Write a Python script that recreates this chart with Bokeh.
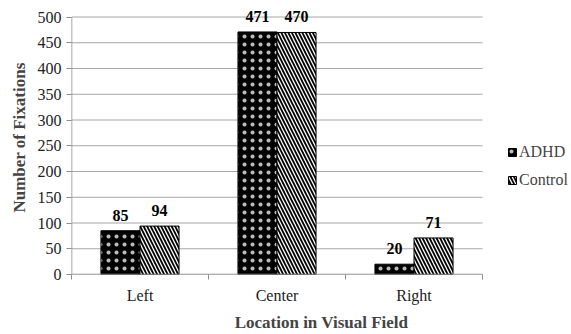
from bokeh.plotting import figure
from bokeh.models import (ColumnDataSource, FixedTicker, Legend, LegendItem,
                          LabelSet, Range1d)
from bokeh.embed import file_html
from bokeh.resources import INLINE
import numpy as np

categories = ["Left", "Center", "Right"]
adhd = [85, 471, 20]
control = [94, 470, 71]
y_ticks = [0, 50, 100, 150, 200, 250, 300, 350, 400, 450, 500]

FONT = "Liberation Serif"
n = len(categories)
pos = np.arange(n) + 0.5
bw = 0.285
GRID = "#a6a6a6"
AXIS = "#8c8c8c"
y_top = y_ticks[-1]

src = ColumnDataSource(dict(
    xa=pos - bw / 2, xc=pos + bw / 2, adhd=adhd, control=control,
    la=[str(v) for v in adhd], lc=[str(v) for v in control]))

# frame spans 71..571 px horizontally; the categories occupy 71..482 px
# frame spans 0..282 px vertically; value 500 sits at 17 px
x_end = n * 500 / 411
y_end = y_top * 282 / 265
p = figure(width=571, height=334, output_backend="svg", toolbar_location=None,
           x_range=Range1d(0, x_end), y_range=Range1d(0, y_end),
           min_border_left=71, min_border_right=0, min_border_top=0,
           min_border_bottom=52)
p.outline_line_color = None
p.background_fill_color = "white"
p.border_fill_color = "white"

# horizontal gridlines (only across the category area)
p.segment(x0=[0] * len(y_ticks), x1=[n] * len(y_ticks), y0=y_ticks, y1=y_ticks,
          line_color=GRID, line_width=1)

ra = p.vbar(x="xa", top="adhd", width=bw, source=src, fill_color="black",
            line_color="black", line_width=1, hatch_pattern="dot",
            hatch_color="#bdbdbd", hatch_scale=8, hatch_weight=0.5)
rc = p.vbar(x="xc", top="control", width=bw, source=src, fill_color="white",
            line_color="black", line_width=1, hatch_pattern="left_diagonal_line",
            hatch_color="black", hatch_scale=7, hatch_weight=1.8)

# axis lines
p.segment(x0=[0], x1=[n], y0=[0], y1=[0], line_color=AXIS, line_width=1.5)
p.segment(x0=[0], x1=[0], y0=[0], y1=[y_top], line_color=AXIS, line_width=1.5)

for xcol, lcol, ycol in (("xa", "la", "adhd"), ("xc", "lc", "control")):
    p.add_layout(LabelSet(x=xcol, y=ycol, text=lcol, source=src, y_offset=10,
                          text_align="center", text_baseline="alphabetic",
                          text_font=FONT, text_font_size="16px",
                          text_font_style="bold", text_color="black"))

# axes
p.xaxis.ticker = FixedTicker(ticks=list(pos), minor_ticks=list(range(n + 1)))
p.xaxis.major_label_overrides = {float(x): c for x, c in zip(pos, categories)}
p.xaxis.major_tick_line_color = None
p.xaxis.minor_tick_line_color = AXIS
p.xaxis.minor_tick_out = 5
p.xaxis.minor_tick_in = 0
p.xaxis.axis_line_color = None
p.xaxis.major_label_text_font = FONT
p.xaxis.major_label_text_font_size = "16px"
p.xaxis.major_label_text_color = "#222222"
p.xaxis.major_label_standoff = 6
p.xaxis.axis_label = "Location in Visual Field"
p.xaxis.axis_label_text_font = FONT
p.xaxis.axis_label_text_font_size = "17px"
p.xaxis.axis_label_text_font_style = "bold"
p.xaxis.axis_label_standoff = 6

p.yaxis.ticker = FixedTicker(ticks=y_ticks)
p.yaxis.minor_tick_line_color = None
p.yaxis.major_tick_line_color = AXIS
p.yaxis.major_tick_out = 5
p.yaxis.major_tick_in = 0
p.yaxis.axis_line_color = None
p.yaxis.major_label_text_font = FONT
p.yaxis.major_label_text_font_size = "16px"
p.yaxis.major_label_text_color = "#222222"
p.yaxis.major_label_standoff = 5
p.yaxis.axis_label = "Number of Fixations"
p.yaxis.axis_label_text_font = FONT
p.yaxis.axis_label_text_font_size = "17px"
p.yaxis.axis_label_text_font_style = "bold"
p.yaxis.axis_label_standoff = 6

p.xgrid.grid_line_color = None
p.ygrid.grid_line_color = None

legend = Legend(items=[LegendItem(label="ADHD", renderers=[ra]),
                       LegendItem(label="Control", renderers=[rc])],
                location=(436, 85), orientation="vertical",
                glyph_width=10, glyph_height=10, label_height=18, spacing=10,
                label_text_font=FONT, label_text_font_size="16px",
                label_standoff=2, border_line_color=None,
                background_fill_alpha=0, padding=0, margin=0)
p.add_layout(legend, "center")

open("out.html", "w").write(file_html(p, INLINE))
